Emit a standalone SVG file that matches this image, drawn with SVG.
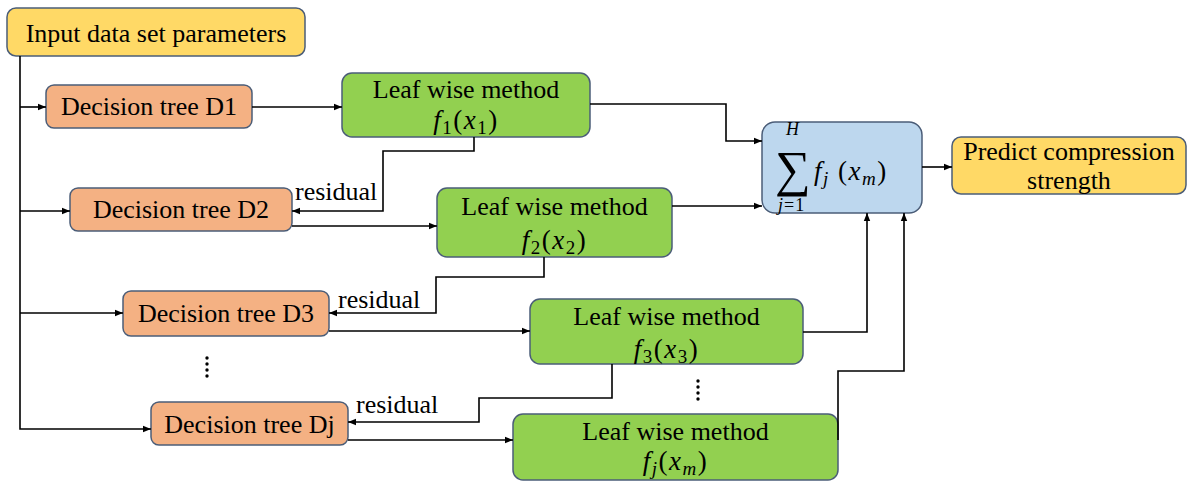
<svg xmlns="http://www.w3.org/2000/svg" width="1188" height="482" viewBox="0 0 1188 482">
<defs>
<marker id="arr" viewBox="0 0 10 10" refX="10" refY="5" markerWidth="8" markerHeight="8" markerUnits="userSpaceOnUse" orient="auto">
<path d="M0,1 L10,5 L0,9 z" fill="#000"/>
</marker>
<style>
.box{stroke:#4B5D78;stroke-width:1.5}
.yel{fill:#FFD966}
.org{fill:#F4B183}
.grn{fill:#92D050}
.blu{fill:#BDD7EE}
text{font-family:'Liberation Serif','Tinos','Times New Roman','DejaVu Serif',serif;fill:#000}
.t{font-size:26px;text-anchor:middle}
.l{font-size:26px}
.m{font-size:27px;text-anchor:middle;letter-spacing:1.5px}
.ms{font-size:27px;letter-spacing:1.5px}
.s{font-size:19px}
.h{font-size:18px}
.big{font-size:50px}
.i{font-style:italic}
.c{fill:none;stroke:#000;stroke-width:1.6}
</style>
</defs>
<g id="input"><rect class="box yel" x="7" y="8" width="298" height="48" rx="9"/><text class="t" x="156" y="42">Input data set parameters</text></g>
<g id="d1"><rect class="box org" x="46" y="85" width="206" height="43" rx="8"/><text class="t" x="149" y="115">Decision tree D1</text></g>
<g id="d2"><rect class="box org" x="70" y="188" width="222" height="43" rx="8"/><text class="t" x="181" y="218">Decision tree D2</text></g>
<g id="d3"><rect class="box org" x="123" y="291" width="206" height="45" rx="8"/><text class="t" x="226" y="322">Decision tree D3</text></g>
<g id="dj"><rect class="box org" x="151" y="402" width="197" height="43" rx="8"/><text class="t" x="249.5" y="433">Decision tree Dj</text></g>
<g id="leaf1"><rect class="box grn" x="342" y="73" width="248" height="64" rx="10"/><text class="t" x="466" y="98">Leaf wise method</text>
<text class="m" x="466" y="129"><tspan class="i">f</tspan><tspan class="s" dy="5">1</tspan><tspan dy="-5">(</tspan><tspan class="i">x</tspan><tspan class="s" dy="5">1</tspan><tspan dy="-5">)</tspan></text></g>
<g id="leaf2"><rect class="box grn" x="437" y="188" width="235" height="69" rx="10"/><text class="t" x="554.5" y="215">Leaf wise method</text>
<text class="m" x="554.5" y="249"><tspan class="i">f</tspan><tspan class="s" dy="5">2</tspan><tspan dy="-5">(</tspan><tspan class="i">x</tspan><tspan class="s" dy="5">2</tspan><tspan dy="-5">)</tspan></text></g>
<g id="leaf3"><rect class="box grn" x="530" y="299" width="273" height="65" rx="10"/><text class="t" x="666.5" y="325">Leaf wise method</text>
<text class="m" x="666.5" y="358"><tspan class="i">f</tspan><tspan class="s" dy="5">3</tspan><tspan dy="-5">(</tspan><tspan class="i">x</tspan><tspan class="s" dy="5">3</tspan><tspan dy="-5">)</tspan></text></g>
<g id="leafj"><rect class="box grn" x="513" y="414" width="325" height="66" rx="10"/><text class="t" x="675.5" y="440">Leaf wise method</text>
<text class="m" x="675.5" y="470"><tspan class="i">f</tspan><tspan class="s i" dy="5">j</tspan><tspan dy="-5">(</tspan><tspan class="i">x</tspan><tspan class="s i" dy="5">m</tspan><tspan dy="-5">)</tspan></text></g>
<g id="sum"><rect class="box blu" x="762" y="122" width="160" height="91" rx="13"/>
<text class="h i" x="786" y="135">H</text>
<text class="big" x="775" y="186">∑</text>
<text class="h" x="778" y="211" letter-spacing="1"><tspan class="i">j</tspan>=1</text>
<text class="ms" x="814" y="180"><tspan class="i">f</tspan><tspan class="s i" dy="5">j</tspan><tspan dy="-5"> (</tspan><tspan class="i">x</tspan><tspan class="s i" dy="5">m</tspan><tspan dy="-5">)</tspan></text></g>
<g id="predict"><rect class="box yel" x="952" y="137" width="234" height="57" rx="9"/><text class="t" x="1069" y="160">Predict compression</text><text class="t" x="1069" y="189">strength</text></g>
<g id="connectors">
<path class="c" d="M20,56 V429 H151" marker-end="url(#arr)"/>
<path class="c" d="M20,107 H46" marker-end="url(#arr)"/>
<path class="c" d="M20,211 H70" marker-end="url(#arr)"/>
<path class="c" d="M20,313 H123" marker-end="url(#arr)"/>
<path class="c" d="M252,107 H342" marker-end="url(#arr)"/>
<path class="c" d="M590,104 H726 V141 H762" marker-end="url(#arr)"/>
<path class="c" d="M474,137 V151 H383 V211 H292" marker-end="url(#arr)"/>
<path class="c" d="M292,226 H437" marker-end="url(#arr)"/>
<path class="c" d="M672,206 H762" marker-end="url(#arr)"/>
<path class="c" d="M544,257 V277 H436 V313 H329" marker-end="url(#arr)"/>
<path class="c" d="M329,331 H530" marker-end="url(#arr)"/>
<path class="c" d="M803,332 H867 V213" marker-end="url(#arr)"/>
<path class="c" d="M612,364 V398 H479 V422 H348" marker-end="url(#arr)"/>
<path class="c" d="M348,440 H513" marker-end="url(#arr)"/>
<path class="c" d="M838,440 V371 H904 V213" marker-end="url(#arr)"/>
<path class="c" d="M922,167 H952" marker-end="url(#arr)"/>
</g>
<g id="labels">
<text class="l" x="295" y="200">residual</text>
<text class="l" x="338" y="308">residual</text>
<text class="l" x="356" y="413">residual</text>
</g>
<g id="dots" fill="#000">
<circle cx="207" cy="358" r="1.7"/><circle cx="207" cy="364" r="1.7"/><circle cx="207" cy="370" r="1.7"/><circle cx="207" cy="376" r="1.7"/>
<circle cx="698" cy="381" r="1.7"/><circle cx="698" cy="387" r="1.7"/><circle cx="698" cy="393" r="1.7"/><circle cx="698" cy="399" r="1.7"/>
</g>
</svg>
